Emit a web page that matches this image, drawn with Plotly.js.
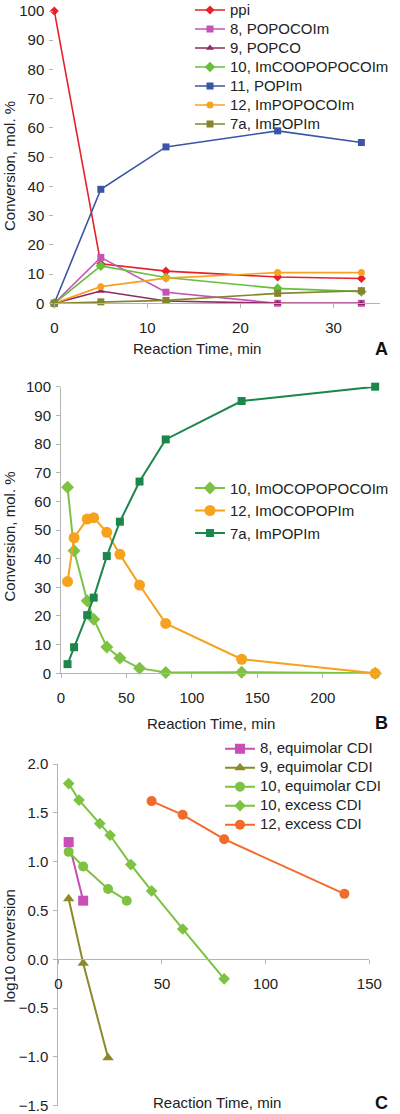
<!DOCTYPE html>
<html>
<head>
<meta charset="utf-8">
<script src="https://cdn.plot.ly/plotly-3.0.1.min.js"></script>
<style>html,body{margin:0;padding:0;background:#fff;}#chart{width:400px;height:1114px;}</style>
</head>
<body>
<div id="chart"></div>
<script>
// ---------- Panel A data ----------
const timeA = [0, 5, 12, 24, 33];
const ppiA = [100, 13.5, 11, 9, 8.5];
const popocoimA = [0, 15.7, 3.8, 0, 0];
const popcoA = [0, 4.2, 0.8, 0, 0];
const imcooA = [0, 12.8, 8.8, 5.1, 4];
const popimA = [0, 39, 53.5, 59, 55];
const impopocoimA = [0, 5.7, 8.6, 10.5, 10.5];
const impopimA = [0, 0.5, 1, 3.4, 4.3];
const namesA = ["ppi", "8, POPOCOIm", "9, POPCO", "10, ImCOOPOPOCOIm", "11, POPIm", "12, ImPOPOCOIm", "7a, ImPOPIm"];

// ---------- Panel B data ----------
const timeB = [5, 10, 20, 25, 35, 45, 60, 80, 138, 240];
const imocoB = [64.9, 42.8, 25.3, 18.9, 9.2, 5.3, 1.8, 0.3, 0.4, 0];
const imocopopimB = [32, 47.3, 53.8, 54.3, 49.2, 41.5, 30.8, 17.4, 4.9, 0];
const impopimB = [3.2, 9.1, 20.3, 26.4, 40.9, 52.9, 66.9, 81.6, 95, 100];
const namesB = ["10, ImOCOPOPOCOIm", "12, ImOCOPOPIm", "7a, ImPOPIm"];

// ---------- Panel C data ----------
const time8C = [5, 12];
const log8C = [1.2, 0.6];
const time9C = [5, 12, 24];
const log9C = [0.62, -0.04, -1.01];
const time10eqC = [5, 12, 24, 33];
const log10eqC = [1.1, 0.95, 0.72, 0.6];
const time10exC = [5, 10, 20, 25, 35, 45, 60, 80];
const log10exC = [1.8, 1.63, 1.39, 1.27, 0.97, 0.7, 0.31, -0.2];
const time12exC = [45, 60, 80, 138];
const log12exC = [1.62, 1.48, 1.23, 0.67];
const namesC = ["8, equimolar CDI", "9, equimolar CDI", "10, equimolar CDI", "10, excess CDI", "12, excess CDI"];

const FONT = "Liberation Sans, Arial, sans-serif";
const TXT = "#222";
const AX = "#b4b4b4";
const big = s => '<span style="font-size:15px">' + s + '</span>';

function tr(x, y, name, color, symbol, size, xa, ya, leg, lw, small) {
  return {
    x: x, y: y, name: small ? big(name) : name, type: "scatter", mode: "lines+markers",
    xaxis: xa, yaxis: ya, legend: leg, cliponaxis: false,
    line: {color: color, width: lw},
    marker: {color: color, symbol: symbol, size: size}
  };
}

const data = [
  tr(timeA, ppiA, namesA[0], "#e8202a", "diamond", 7, "x", "y", "legend", 1.6, true),
  tr(timeA, popocoimA, namesA[1], "#c553b6", "square", 7, "x", "y", "legend", 1.6, true),
  tr(timeA, popcoA, namesA[2], "#8e2a5e", "triangle-up", 7, "x", "y", "legend", 1.6, true),
  tr(timeA, imcooA, namesA[3], "#66bf3c", "diamond", 8, "x", "y", "legend", 1.6, true),
  tr(timeA, popimA, namesA[4], "#3a55a6", "square", 7, "x", "y", "legend", 1.6, true),
  tr(timeA, impopocoimA, namesA[5], "#f7a21e", "circle", 7, "x", "y", "legend", 1.6, true),
  tr(timeA, impopimA, namesA[6], "#85852e", "square", 7, "x", "y", "legend", 1.6, true),

  tr(timeB, imocoB, namesB[0], "#7dc243", "diamond", 10, "x2", "y2", "legend2", 2, false),
  tr(timeB, imocopopimB, namesB[1], "#f7a21c", "circle", 11, "x2", "y2", "legend2", 2, false),
  tr(timeB, impopimB, namesB[2], "#1b874a", "square", 8, "x2", "y2", "legend2", 2, false),

  tr(time8C, log8C, namesC[0], "#c94fb4", "square", 10, "x3", "y3", "legend3", 2, true),
  tr(time9C, log9C, namesC[1], "#8a8a2a", "triangle-up", 10, "x3", "y3", "legend3", 2, true),
  tr(time10eqC, log10eqC, namesC[2], "#7dc243", "circle", 10, "x3", "y3", "legend3", 2, true),
  tr(time10exC, log10exC, namesC[3], "#7dc243", "diamond", 9, "x3", "y3", "legend3", 2, true),
  tr(time12exC, log12exC, namesC[4], "#f26b2b", "circle", 10, "x3", "y3", "legend3", 2, true)
];

const tickfont = {family: FONT, size: 15, color: TXT};
function xax(domain, range, dtick, extra) {
  return Object.assign({
    domain: domain, range: range, dtick: dtick, tick0: 0,
    showline: true, linecolor: AX, linewidth: 1, ticks: "outside", ticklen: 4, tickcolor: AX,
    showgrid: false, zeroline: false, tickfont: tickfont, ticklabelstandoff: 7, fixedrange: true
  }, extra || {});
}
function yax(domain, range, dtick, extra) {
  return Object.assign({
    domain: domain, range: range, dtick: dtick, tick0: 0,
    showline: true, linecolor: AX, linewidth: 1, ticks: "outside", ticklen: 4, tickcolor: AX,
    showgrid: false, zeroline: false, tickfont: tickfont, ticklabelstandoff: 2, fixedrange: true
  }, extra || {});
}

const H = 1114;
const py = p => (H - p) / H;  // pixel row -> paper fraction
const yDomC = [py(1105.7), py(764)];
const zeroPosC = yDomC[0] + (yDomC[1] - yDomC[0]) * 1.5 / 3.5;

function ann(text, xpx, ypx, size, bold, angle) {
  return {
    text: bold ? "<b>" + text + "</b>" : text, xref: "paper", yref: "paper",
    x: xpx / 400, y: py(ypx), xanchor: "center", yanchor: "middle", showarrow: false,
    textangle: angle || 0, font: {family: FONT, size: size, color: bold ? "#111" : TXT}
  };
}

const legBase = {bgcolor: "rgba(0,0,0,0)", borderwidth: 0, xanchor: "left", yanchor: "top", tracegroupgap: 0};

const layout = {
  width: 400, height: 1114,
  margin: {l: 0, r: 0, t: 0, b: 0, pad: 0, autoexpand: false},
  paper_bgcolor: "#fff", plot_bgcolor: "#fff",
  font: {family: FONT, color: TXT},
  showlegend: true,
  xaxis: xax([54.3 / 400, 380 / 400], [0, 35], 10, {anchor: "y"}),
  yaxis: yax([py(303.3), py(11)], [0, 100], 10, {anchor: "x", showline: false}),
  xaxis2: xax([61 / 400, 381.7 / 400], [0, 245], 50, {anchor: "y2"}),
  yaxis2: yax([py(673.3), py(386.7)], [0, 100], 10, {anchor: "x2"}),
  xaxis3: xax([58.3 / 400, 369.3 / 400], [0, 150], 50, {anchor: "free", position: zeroPosC}),
  yaxis3: yax(yDomC, [-1.5, 2], 0.5, {anchor: "x3", tickformat: ".1f"}),
  legend: Object.assign({}, legBase, {x: 190 / 400, y: py(-4.5), font: {family: FONT, size: 12, color: TXT}}),
  legend2: Object.assign({}, legBase, {x: 190 / 400, y: py(471.75), font: {family: FONT, size: 15, color: TXT}}),
  legend3: Object.assign({}, legBase, {x: 220 / 400, y: py(734.2), font: {family: FONT, size: 12, color: TXT}}),
  annotations: [
    ann("Reaction Time, min", 197, 349, 15),
    ann("A", 381, 349, 18, true),
    ann("Conversion, mol. %", 9, 166, 15, false, -90),
    ann("Reaction Time, min", 211, 723, 15),
    ann("B", 381, 723, 18, true),
    ann("Conversion, mol. %", 9, 536.5, 15, false, -90),
    ann("Reaction Time, min", 217, 1102.7, 15),
    ann("C", 381, 1102.7, 18, true),
    ann("log10 conversion", 9, 946.5, 15, false, -90)
  ]
};

Plotly.newPlot("chart", data, layout, {staticPlot: true, displayModeBar: false});
</script>
</body>
</html>
